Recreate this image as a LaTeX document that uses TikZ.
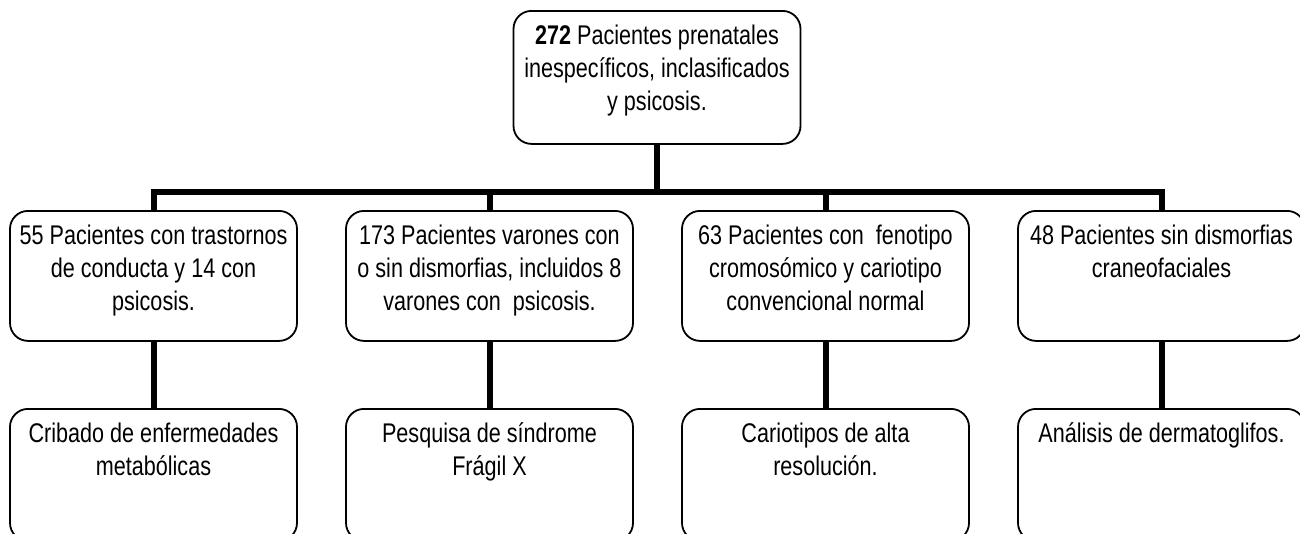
\documentclass[tikz,border=0pt]{standalone}
\usepackage{fontspec}
\setmainfont[FakeStretch=0.8]{Liberation Sans}
\tikzset{
  caja/.style = {draw, line width=1.8pt, rounded corners=18pt, inner sep=0pt,
                 minimum width=287pt, anchor=north},
  tronco/.style = {line width=6pt, line join=miter}
}
\newcommand{\textocaja}[2]{\parbox[t][#1][t]{287pt}{\centering\fontsize{27}{33}\selectfont\rule{0pt}{34pt}#2}}

\begin{document}
\begin{tikzpicture}[x=1pt, y=-1pt]
\useasboundingbox (0, 0) rectangle (1300, 533);

\node[caja, minimum width=286pt] (raiz) at (657, 10) {\textocaja{133pt}{\textbf{272} Pacientes prenatales\\ inespecíficos, inclasificados\\ y psicosis.}};

\node[caja] (m1) at (153.5, 210) {\textocaja{130pt}{55 Pacientes con trastornos\\ de conducta y 14 con\\ psicosis.}};
\node[caja] (m2) at (489.5, 210) {\textocaja{130pt}{173 Pacientes varones con\\ o sin dismorfias, incluidos 8\\ varones con \ psicosis.}};
\node[caja] (m3) at (825.5, 210) {\textocaja{130pt}{63 Pacientes con \ fenotipo\\ cromosómico y cariotipo\\ convencional normal}};
\node[caja] (m4) at (1161.5, 210) {\textocaja{130pt}{48 Pacientes sin dismorfias\\ craneofaciales}};

\node[caja] (b1) at (153.5, 408) {\textocaja{132pt}{Cribado de enfermedades\\ metabólicas}};
\node[caja] (b2) at (489.5, 408) {\textocaja{132pt}{Pesquisa de síndrome\\ Frágil X}};
\node[caja] (b3) at (825.5, 408) {\textocaja{132pt}{Cariotipos de alta\\ resolución.}};
\node[caja] (b4) at (1161.5, 408) {\textocaja{132pt}{Análisis de dermatoglifos.}};

\coordinate (barra) at (657, 192);

\draw[tronco] (raiz.south) -- (barra);
\draw[tronco] (m1.north) |- (barra) -| (m4.north);
\draw[tronco] (m2.north) |- (barra);
\draw[tronco] (m3.north) |- (barra);

\draw[tronco] (m1.south) -- (b1.north);
\draw[tronco] (m2.south) -- (b2.north);
\draw[tronco] (m3.south) -- (b3.north);
\draw[tronco] (m4.south) -- (b4.north);
\end{tikzpicture}
\end{document}
